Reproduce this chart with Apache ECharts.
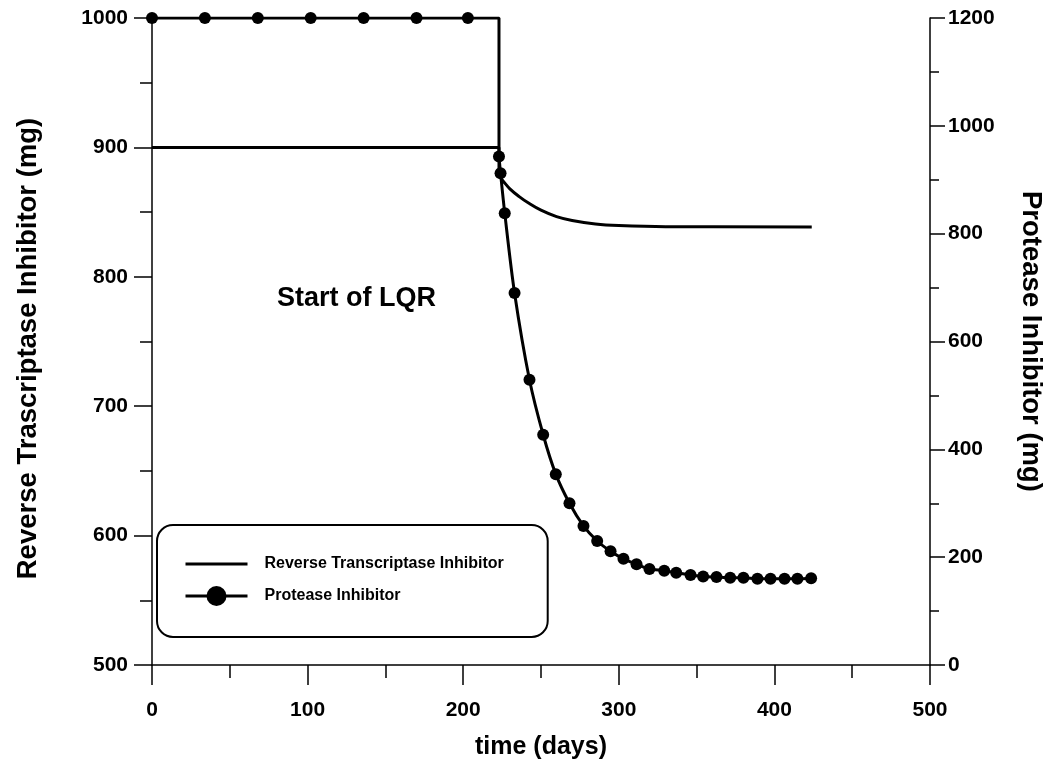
<!DOCTYPE html>
<html lang="en">
<head>
    <meta charset="UTF-8">
    <title>LQR dosing</title>
    <script src="https://cdn.jsdelivr.net/npm/echarts@6/dist/echarts.min.js"></script>
    <style>
        body { margin: 0; background: #fff; }
        #main { width: 1056px; height: 767px; }
    </style>
</head>
<body>
<div id="main"></div>

<script>
    // reverse transcriptase inhibitor (left axis, mg)
    var rtDays = [0, 223, 223, 226, 230, 236, 242, 250, 260, 270, 285, 300, 330, 424];
    var rtValues = [900, 900, 878, 873.5, 868, 862, 857, 851.5, 846.5, 843.5, 840.8, 839.6, 838.7, 838.5];

    // protease inhibitor (right axis, mg)
    var piDays = [0, 34, 68, 102, 136, 170, 203, 223, 223, 224, 226.7, 233, 242.6, 251.4, 259.5,
        268.3, 277.3, 286.1, 294.7, 303, 311.4, 319.7, 329.2, 336.9, 346.1, 354.2, 362.8,
        371.6, 380.1, 389.1, 397.5, 406.5, 414.8, 423.6];
    var piValues = [1200, 1200, 1200, 1200, 1200, 1200, 1200, 1200, 943, 912, 838, 690, 529, 427, 354,
        300, 258, 230, 211, 197, 187, 178, 175, 171, 167, 164, 163,
        162, 162, 160, 160, 160, 160, 161];

    var rtName = 'Reverse Transcriptase Inhibitor';
    var piName = 'Protease Inhibitor';

    function pairs(xs, ys) {
        var out = [];
        for (var i = 0; i < xs.length; i++) {
            out.push([xs[i], ys[i]]);
        }
        return out;
    }

    var rtAll = pairs(rtDays, rtValues);
    var piAll = pairs(piDays, piValues);

    var font = 'Liberation Sans, Arial, sans-serif';
    var lab = {
        color: '#000', fontFamily: font, fontWeight: 'bold', fontSize: 21,
        formatter: function (v) { return String(v); }
    };
    var titleStyle = { color: '#000', fontFamily: font, fontWeight: 'bold', fontSize: 25 };
    var axisLine = { show: true, lineStyle: { color: '#000', width: 1.5 } };

    var myChart = echarts.init(document.getElementById('main'));

    var option = {
        animation: false,
        grid: { left: 152, right: 126, top: 18, bottom: 102, outerBoundsMode: 'none' },
        legend: {
            orient: 'vertical',
            left: 157,
            top: 525,
            padding: [29, 44, 31, 27],
            borderColor: '#000',
            borderWidth: 2,
            borderRadius: 16,
            itemWidth: 62,
            itemHeight: 25,
            itemGap: 12,
            lineStyle: { width: 3 },
            data: [
                { name: rtName, itemStyle: { opacity: 0 } },
                { name: piName }
            ],
            textStyle: { color: '#000', fontFamily: font, fontWeight: 'bold', fontSize: 16, padding: [0, 0, 0, 12] }
        },
        graphic: [{
            type: 'text',
            left: 277,
            top: 285,
            style: { text: 'Start of LQR', fill: '#000', font: 'bold 27px ' + font }
        }],
        xAxis: {
            type: 'value',
            min: 0,
            max: 500,
            interval: 100,
            name: 'time (days)',
            nameLocation: 'middle',
            nameGap: 70,
            nameTextStyle: titleStyle,
            axisLine: axisLine,
            axisTick: { length: 20, lineStyle: { color: '#000', width: 1.5 } },
            minorTick: { show: true, splitNumber: 2, length: 13, lineStyle: { color: '#000', width: 1.5 } },
            axisLabel: Object.assign({ margin: 35 }, lab),
            splitLine: { show: false }
        },
        yAxis: [{
            type: 'value',
            position: 'left',
            min: 500,
            max: 1000,
            interval: 100,
            name: 'Reverse Trascriptase Inhibitor (mg)',
            nameLocation: 'middle',
            nameGap: 110,
            nameTextStyle: Object.assign({}, titleStyle, { fontSize: 27.5, padding: [0, 14, 0, 0] }),
            axisLine: axisLine,
            axisTick: { show: true, length: 18, lineStyle: { color: '#000', width: 1.5 } },
            minorTick: { show: true, splitNumber: 2, length: 12, lineStyle: { color: '#000', width: 1.5 } },
            axisLabel: Object.assign({ margin: 24 }, lab),
            splitLine: { show: false }
        }, {
            type: 'value',
            position: 'right',
            min: 0,
            max: 1200,
            interval: 200,
            name: 'Protease Inhibitor (mg)',
            nameLocation: 'middle',
            nameGap: 87,
            nameRotate: -90,
            nameTextStyle: Object.assign({}, titleStyle, { fontSize: 27.5 }),
            axisLine: axisLine,
            axisTick: { show: true, length: 15, lineStyle: { color: '#000', width: 1.5 } },
            minorTick: { show: true, splitNumber: 2, length: 9, lineStyle: { color: '#000', width: 1.5 } },
            axisLabel: Object.assign({ margin: 18 }, lab),
            splitLine: { show: false }
        }],
        series: [
            {
                name: rtName,
                type: 'line',
                yAxisIndex: 0,
                symbol: 'none',
                lineStyle: { color: '#000', width: 3 },
                itemStyle: { color: '#000' },
                data: rtAll.slice(0, 3)
            },
            {
                name: rtName,
                type: 'line',
                yAxisIndex: 0,
                symbol: 'none',
                smooth: 0.4,
                lineStyle: { color: '#000', width: 3 },
                itemStyle: { color: '#000' },
                data: rtAll.slice(2)
            },
            {
                name: piName,
                type: 'line',
                yAxisIndex: 1,
                symbol: 'circle',
                symbolSize: 12,
                lineStyle: { color: '#000', width: 3 },
                itemStyle: { color: '#000' },
                data: piAll.slice(0, 7)
            },
            {
                name: 'pi-switch',
                type: 'line',
                yAxisIndex: 1,
                symbol: 'none',
                lineStyle: { color: '#000', width: 3 },
                data: piAll.slice(6, 9)
            },
            {
                name: piName,
                type: 'line',
                yAxisIndex: 1,
                symbol: 'circle',
                symbolSize: 12,
                smooth: 0.3,
                lineStyle: { color: '#000', width: 3 },
                itemStyle: { color: '#000' },
                data: piAll.slice(8)
            }
        ]
    };

    myChart.setOption(option);
</script>
</body>
</html>
